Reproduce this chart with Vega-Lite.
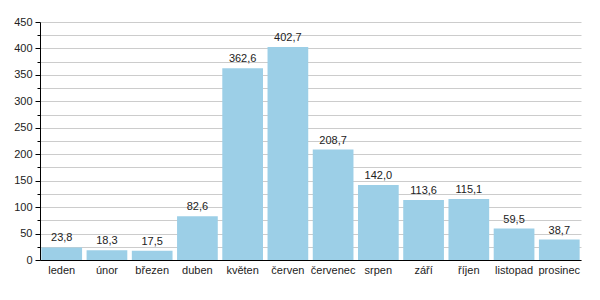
{
  "$schema": "https://vega.github.io/schema/vega-lite/v6.json",
  "width": 600,
  "height": 300,
  "autosize": {"type": "fit", "contains": "padding"},
  "padding": {"left": 13, "top": 16, "right": 19, "bottom": 25},
  "config": {
    "view": {"stroke": null},
    "font": "Liberation Sans",
    "locale": {"number": {"decimal": ",", "thousands": " ", "grouping": [3], "currency": ["", ""]}}
  },
  "data": {
    "values": [
      {"mesic": "leden", "srazky": 23.8},
      {"mesic": "únor", "srazky": 18.3},
      {"mesic": "březen", "srazky": 17.5},
      {"mesic": "duben", "srazky": 82.6},
      {"mesic": "květen", "srazky": 362.6},
      {"mesic": "červen", "srazky": 402.7},
      {"mesic": "červenec", "srazky": 208.7},
      {"mesic": "srpen", "srazky": 142.0},
      {"mesic": "září", "srazky": 113.6},
      {"mesic": "říjen", "srazky": 115.1},
      {"mesic": "listopad", "srazky": 59.5},
      {"mesic": "prosinec", "srazky": 38.7}
    ]
  },
  "encoding": {
    "x": {
      "field": "mesic", "type": "nominal", "sort": null,
      "scale": {"paddingInner": 0.1, "paddingOuter": 0.03},
      "axis": {"title": null, "labelAngle": 0, "ticks": false, "domainColor": "#000", "labelColor": "#222", "labelFontSize": 11, "labelPadding": 4}
    },
    "y": {
      "field": "srazky", "type": "quantitative",
      "scale": {"domain": [0, 450], "nice": false},
      "axis": {
        "title": null,
        "values": [0,25,50,75,100,125,150,175,200,225,250,275,300,325,350,375,400,425,450],
        "labelExpr": "datum.value % 50 === 0 ? datum.label : ''",
        "tickSize": {"condition": {"test": "datum.value % 50 === 0", "value": 5}, "value": 3},
        "tickColor": "#000", "domainColor": "#000",
        "gridColor": "#cccccc", "labelColor": "#222", "labelFontSize": 11, "labelPadding": 3
      }
    }
  },
  "layer": [
    {"mark": {"type": "bar", "color": "#9ccfe7"}},
    {
      "mark": {"type": "text", "baseline": "bottom", "dy": -4, "fontSize": 11, "color": "#222"},
      "encoding": {"text": {"field": "srazky", "type": "quantitative", "format": ".1f"}}
    }
  ]
}
